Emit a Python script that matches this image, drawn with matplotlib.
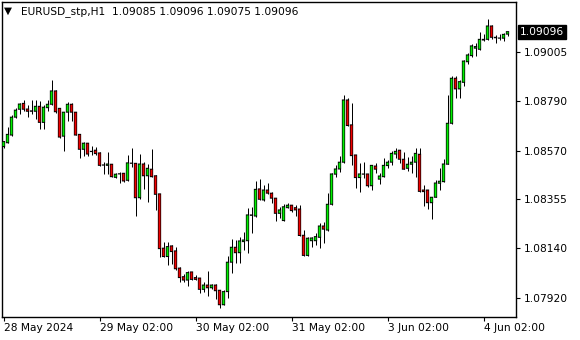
import numpy as np
import matplotlib
matplotlib.use('Agg')
import matplotlib.pyplot as plt
import matplotlib.transforms as mtransforms

# EURUSD H1 bars (28 May 02:00 .. 4 Jun 08:00)
opens = [1.08588, 1.08605, 1.08639, 1.08718, 1.08753, 1.08779, 1.08754, 1.08744, 1.08744, 1.08766,
         1.08695, 1.08760, 1.08775, 1.08834, 1.08757, 1.08634, 1.08740, 1.08775, 1.08740, 1.08642,
         1.08576, 1.08603, 1.08567, 1.08572, 1.08560, 1.08507, 1.08505, 1.08510, 1.08452, 1.08468,
         1.08470, 1.08439, 1.08514, 1.08514, 1.08362, 1.08511, 1.08459, 1.08488, 1.08459, 1.08379,
         1.08139, 1.08102, 1.08149, 1.08127, 1.08051, 1.08013, 1.07998, 1.08034, 1.08009, 1.08007,
         1.07957, 1.07976, 1.07964, 1.07976, 1.07953, 1.07889, 1.07947, 1.08077, 1.08143, 1.08119,
         1.08168, 1.08172, 1.08286, 1.08281, 1.08401, 1.08352, 1.08396, 1.08382, 1.08360, 1.08293,
         1.08261, 1.08318, 1.08329, 1.08318, 1.08312, 1.08196, 1.08107, 1.08172, 1.08172, 1.08187,
         1.08237, 1.08219, 1.08333, 1.08466, 1.08489, 1.08519, 1.08794, 1.08684, 1.08551, 1.08451,
         1.08466, 1.08467, 1.08415, 1.08502, 1.08444, 1.08455, 1.08504, 1.08519, 1.08555, 1.08572,
         1.08532, 1.08492, 1.08510, 1.08519, 1.08554, 1.08396, 1.08396, 1.08340, 1.08364, 1.08426,
         1.08433, 1.08510, 1.08691, 1.08890, 1.08843, 1.08872, 1.08963, 1.08990, 1.09023, 1.09018,
         1.09059, 1.09062, 1.09121, 1.09071, 1.09067, 1.09067, 1.09085]
highs = [1.08614, 1.08676, 1.08728, 1.08760, 1.08782, 1.08794, 1.08772, 1.08794, 1.08793, 1.08790,
         1.08772, 1.08794, 1.08882, 1.08838, 1.08759, 1.08741, 1.08786, 1.08779, 1.08742, 1.08643,
         1.08610, 1.08605, 1.08591, 1.08586, 1.08563, 1.08519, 1.08563, 1.08511, 1.08471, 1.08474,
         1.08471, 1.08551, 1.08580, 1.08516, 1.08555, 1.08519, 1.08511, 1.08577, 1.08463, 1.08380,
         1.08168, 1.08168, 1.08153, 1.08146, 1.08055, 1.08025, 1.08038, 1.08035, 1.08020, 1.08008,
         1.07991, 1.08038, 1.07981, 1.07979, 1.07954, 1.07953, 1.08105, 1.08180, 1.08175, 1.08190,
         1.08212, 1.08315, 1.08322, 1.08436, 1.08444, 1.08418, 1.08426, 1.08389, 1.08361, 1.08322,
         1.08334, 1.08337, 1.08330, 1.08330, 1.08330, 1.08219, 1.08190, 1.08190, 1.08208, 1.08252,
         1.08256, 1.08382, 1.08470, 1.08507, 1.08548, 1.08816, 1.08802, 1.08779, 1.08552, 1.08517,
         1.08521, 1.08468, 1.08506, 1.08514, 1.08470, 1.08538, 1.08529, 1.08569, 1.08580, 1.08573,
         1.08563, 1.08543, 1.08547, 1.08583, 1.08583, 1.08418, 1.08397, 1.08365, 1.08440, 1.08495,
         1.08532, 1.08816, 1.08900, 1.08900, 1.08882, 1.08971, 1.09000, 1.09040, 1.09045, 1.09093,
         1.09084, 1.09152, 1.09125, 1.09081, 1.09086, 1.09089, 1.09096]
lows = [1.08582, 1.08603, 1.08635, 1.08713, 1.08732, 1.08747, 1.08720, 1.08731, 1.08709, 1.08665,
        1.08665, 1.08745, 1.08772, 1.08738, 1.08627, 1.08570, 1.08701, 1.08701, 1.08637, 1.08539,
        1.08547, 1.08547, 1.08550, 1.08550, 1.08504, 1.08468, 1.08467, 1.08452, 1.08448, 1.08428,
        1.08433, 1.08437, 1.08498, 1.08283, 1.08356, 1.08401, 1.08345, 1.08454, 1.08308, 1.08101,
        1.08101, 1.08065, 1.08069, 1.08043, 1.07991, 1.07991, 1.07973, 1.07998, 1.07998, 1.07940,
        1.07947, 1.07929, 1.07960, 1.07913, 1.07873, 1.07887, 1.07920, 1.08028, 1.08075, 1.08075,
        1.08131, 1.08119, 1.08205, 1.08278, 1.08352, 1.08348, 1.08379, 1.08340, 1.08261, 1.08271,
        1.08259, 1.08315, 1.08300, 1.08281, 1.08194, 1.08106, 1.08105, 1.08146, 1.08153, 1.08139,
        1.08161, 1.08217, 1.08331, 1.08455, 1.08474, 1.08514, 1.08680, 1.08507, 1.08406, 1.08389,
        1.08448, 1.08411, 1.08396, 1.08473, 1.08423, 1.08454, 1.08495, 1.08507, 1.08539, 1.08514,
        1.08487, 1.08481, 1.08473, 1.08455, 1.08389, 1.08327, 1.08312, 1.08268, 1.08363, 1.08396,
        1.08432, 1.08509, 1.08690, 1.08802, 1.08804, 1.08856, 1.08952, 1.08985, 1.08990, 1.09016,
        1.09056, 1.09061, 1.09062, 1.09045, 1.09059, 1.09056, 1.09075]
closes = [1.08610, 1.08642, 1.08718, 1.08749, 1.08776, 1.08753, 1.08744, 1.08746, 1.08766, 1.08695,
          1.08762, 1.08775, 1.08834, 1.08742, 1.08630, 1.08740, 1.08775, 1.08740, 1.08639, 1.08576,
          1.08603, 1.08555, 1.08566, 1.08557, 1.08505, 1.08506, 1.08511, 1.08455, 1.08466, 1.08467,
          1.08436, 1.08516, 1.08515, 1.08362, 1.08511, 1.08459, 1.08492, 1.08455, 1.08377, 1.08137,
          1.08102, 1.08146, 1.08124, 1.08048, 1.08009, 1.07998, 1.08031, 1.08001, 1.08001, 1.07957,
          1.07976, 1.07964, 1.07976, 1.07951, 1.07889, 1.07947, 1.08077, 1.08143, 1.08119, 1.08171,
          1.08175, 1.08286, 1.08284, 1.08399, 1.08355, 1.08396, 1.08382, 1.08360, 1.08293, 1.08308,
          1.08322, 1.08329, 1.08305, 1.08308, 1.08195, 1.08107, 1.08183, 1.08184, 1.08190, 1.08237,
          1.08223, 1.08333, 1.08467, 1.08489, 1.08519, 1.08794, 1.08681, 1.08548, 1.08451, 1.08467,
          1.08467, 1.08415, 1.08505, 1.08488, 1.08458, 1.08505, 1.08519, 1.08558, 1.08567, 1.08532,
          1.08488, 1.08510, 1.08519, 1.08558, 1.08390, 1.08389, 1.08340, 1.08364, 1.08427, 1.08435,
          1.08511, 1.08691, 1.08890, 1.08843, 1.08875, 1.08966, 1.08993, 1.09033, 1.09030, 1.09062,
          1.09062, 1.09121, 1.09071, 1.09069, 1.09068, 1.09084, 1.09096]

price_ticks = [1.09005, 1.08790, 1.08570, 1.08355, 1.08140, 1.07920]
price_labels = ['1.09005', '1.08790', '1.08570', '1.08355', '1.08140', '1.07920']
time_ticks = [0, 24, 48, 72, 96, 120]
time_labels = ['28 May 2024', '29 May 02:00', '30 May 02:00', '31 May 02:00', '3 Jun 02:00', '4 Jun 02:00']

symbol = 'EURUSD_stp,H1'

o = np.array(opens)
h = np.array(highs)
l = np.array(lows)
c = np.array(closes)
x = np.arange(len(o))

fig = plt.figure(figsize=(5.8, 3.4), dpi=100)
ax = fig.add_axes([2 / 580, 1 - 316.5 / 340, 514 / 580, 314.5 / 340])
ymin, ymax = 1.07837, 1.09227
px = (ymax - ymin) / 314.5  # one screen pixel in price units

# wicks
ax.vlines(x, l, h, color='black', linewidth=0.72, zorder=1)
# bodies: black frame with a coloured core
lo = np.minimum(o, c)
hi = np.maximum(o, c)
ax.bar(x, hi - lo + px, bottom=lo - px / 2, width=0.82, color='black',
       linewidth=0, zorder=2, snap=False)
body_col = np.where(c >= o, '#00f000', '#f00000')
core = np.clip(hi - lo - px, 0, None)
ax.bar(x, core, bottom=lo + px / 2, width=0.46, color=body_col,
       linewidth=0, zorder=3, snap=False)

ax.set_xlim(-0.375, 128.125)
ax.set_ylim(ymin, ymax)

ax.yaxis.tick_right()
ax.set_yticks(price_ticks)
ax.set_yticklabels(price_labels)
ax.set_xticks(time_ticks)
ax.set_xticklabels(time_labels, ha='left')
ax.tick_params(axis='y', direction='out', length=3, pad=3, labelsize=7.7, width=0.8)
ax.tick_params(axis='x', direction='out', length=3, pad=2, labelsize=7.7, width=0.8)
for s in ax.spines.values():
    s.set_linewidth(1.0)
    s.set_color('black')

# current price tag on the right
trans = mtransforms.blended_transform_factory(ax.transAxes, ax.transData)
ax.text(1.008, c[-1], '1.09096', transform=trans, color='white', fontsize=7.7,
        va='center', ha='left',
        bbox=dict(boxstyle='square,pad=0.2', fc='black', ec='black'))

# chart header
fig.text(4 / 580, 1 - 11 / 340, '\u25BC', fontsize=7.5, va='center', ha='left')
fig.text(21 / 580, 1 - 12 / 340,
         f'{symbol}  {opens[-1]:.5f} {highs[-1]:.5f} {lows[-1]:.5f} {closes[-1]:.5f}',
         fontsize=7.7, va='center', ha='left')

fig.savefig('out.png', dpi=100)
